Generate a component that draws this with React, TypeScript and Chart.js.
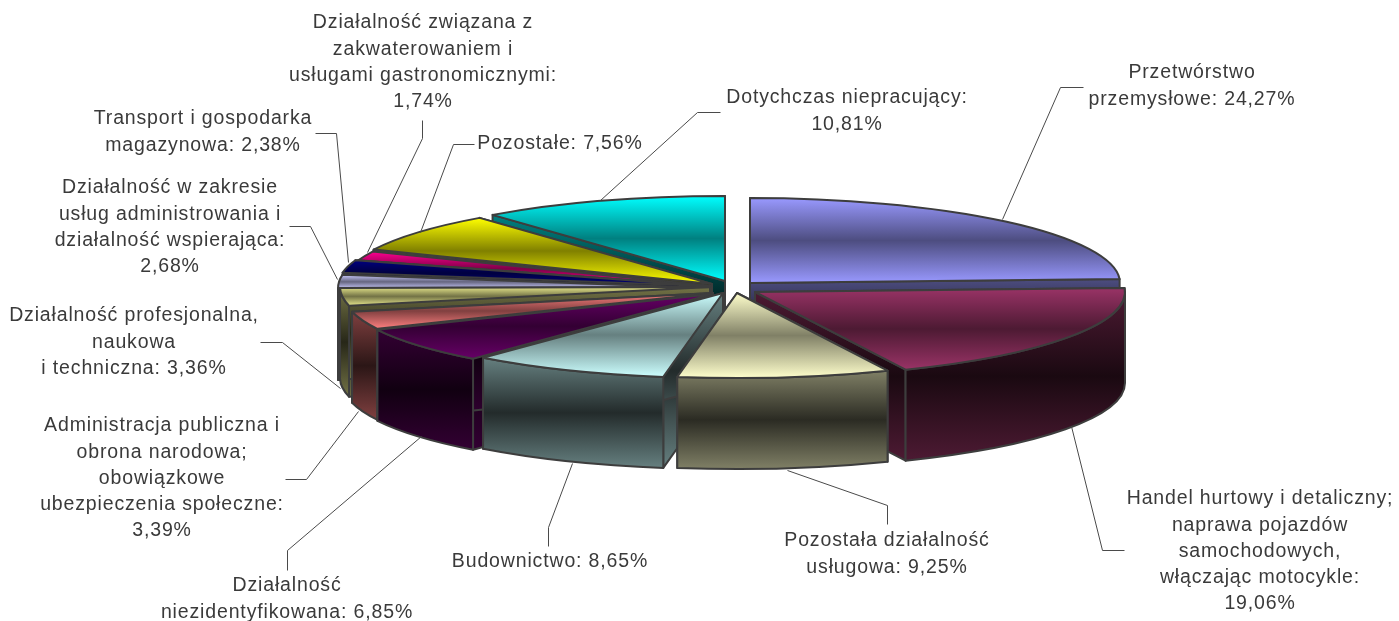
import React, { useEffect, useRef } from "react";
import { Chart, registerables } from "chart.js";

Chart.register(...registerables);

const sectorNames = [
  "Przetwórstwo przemysłowe",
  "Handel hurtowy i detaliczny; naprawa pojazdów samochodowych, włączając motocykle",
  "Pozostała działalność usługowa",
  "Budownictwo",
  "Działalność niezidentyfikowana",
  "Administracja publiczna i obrona narodowa; obowiązkowe ubezpieczenia społeczne",
  "Działalność profesjonalna, naukowa i techniczna",
  "Działalność w zakresie usług administrowania i działalność wspierająca",
  "Transport i gospodarka magazynowa",
  "Działalność związana z zakwaterowaniem i usługami gastronomicznymi",
  "Pozostałe",
  "Dotychczas niepracujący",
];
const shares = [24.27, 19.06, 9.25, 8.65, 6.85, 3.39, 3.36, 2.68, 2.38, 1.74, 7.56, 10.81];
const sliceColours = [
  "#9999FF", "#993366", "#FFFFCC", "#CCFFFF", "#660066", "#FF8080",
  "#E6E68C", "#CCCCFF", "#000080", "#FF0090", "#FFFF00", "#00FFFF",
];
const shareTexts = shares.map((v) => v.toFixed(2).replace(".", ",") + "%");

// Wrapped label text; the value is appended to the last line (or stands alone when the line is empty)
const labelLines: string[][] = [
  ["Przetwórstwo", "przemysłowe: "],
  ["Handel hurtowy i detaliczny;", "naprawa pojazdów", "samochodowych,", "włączając motocykle:", ""],
  ["Pozostała działalność", "usługowa: "],
  ["Budownictwo: "],
  ["Działalność", "niezidentyfikowana: "],
  ["Administracja publiczna i", "obrona narodowa;", "obowiązkowe", "ubezpieczenia społeczne:", ""],
  ["Działalność profesjonalna,", "naukowa", "i techniczna: "],
  ["Działalność w zakresie", "usług administrowania i", "działalność wspierająca:", ""],
  ["Transport i gospodarka", "magazynowa: "],
  ["Działalność związana z", "zakwaterowaniem i", "usługami gastronomicznymi:", ""],
  ["Pozostałe: "],
  ["Dotychczas niepracujący:", ""],
];

// Layout of the fake-3D projection
const RX = 370;
const RY = 85;
const DEPTH = 91;
const sliceOrigins = [
  [750, 283], [755, 292], [737, 293], [723, 293], [713, 294], [713, 293],
  [710, 287], [708, 288], [708, 286], [711, 286], [712, 284], [725, 281],
];
const paintOrder = [11, 10, 9, 8, 7, 6, 5, 4, 3, 0, 1, 2];
const labelAnchors = [
  [1192, 73], [1260, 499], [887, 541], [550, 562], [287, 586], [162, 426],
  [134, 316], [170, 188], [203, 119], [423, 23], [560, 144], [847, 98],
];
const LINE_H = 26.2;
const leaders = [
  [[1002, 219], [1060, 87], [1083, 87]],
  [[1071, 426], [1102, 550], [1124, 550]],
  [[787, 470], [887, 505], [887, 524]],
  [[572, 463], [548, 527], [548, 546]],
  [[421, 436], [287, 550], [287, 570]],
  [[358, 411], [306, 479], [285, 479]],
  [[340, 388], [282, 342], [260, 342]],
  [[337, 279], [310, 226], [289, 226]],
  [[348, 262], [336, 133], [315, 133]],
  [[367, 252], [422, 138], [422, 120]],
  [[420, 232], [453, 144], [474, 144]],
  [[600, 200], [697, 112], [720, 112]],
];

const EDGE = "#3d3d3d";

function shade(hex: string, f: number) {
  const n = parseInt(hex.slice(1), 16);
  const c = [(n >> 16) & 255, (n >> 8) & 255, n & 255].map((v) => Math.round(v * f));
  return `rgb(${c[0]},${c[1]},${c[2]})`;
}

function vGrad(ctx: CanvasRenderingContext2D, y0: number, y1: number, colour: string, ends: number, mid: number) {
  const g = ctx.createLinearGradient(0, y0, 0, y1);
  g.addColorStop(0, shade(colour, ends));
  g.addColorStop(0.5, shade(colour, mid));
  g.addColorStop(1, shade(colour, ends));
  return g;
}

function fillStroke(ctx: CanvasRenderingContext2D, fill: CanvasGradient) {
  ctx.fillStyle = fill;
  ctx.fill();
  ctx.strokeStyle = EDGE;
  ctx.lineWidth = 2;
  ctx.stroke();
}

const pie3d = {
  id: "pie3d",
  beforeDatasetDraw(chart: any) {
    const ctx: CanvasRenderingContext2D = chart.ctx;
    const arcs = chart.getDatasetMeta(0).data;
    ctx.save();
    ctx.lineJoin = "round";
    for (const i of paintOrder) {
      const arc = arcs[i];
      const [ox, oy] = sliceOrigins[i];
      const colour = sliceColours[i];
      const s: number = arc.startAngle;
      const e: number = arc.endAngle;
      const px = (a: number) => ox + Math.cos(a) * RX;
      const py = (a: number) => oy + Math.sin(a) * RY;

      // cut faces
      for (const a of [s, e]) {
        ctx.beginPath();
        ctx.moveTo(ox, oy);
        ctx.lineTo(px(a), py(a));
        ctx.lineTo(px(a), py(a) + DEPTH);
        ctx.lineTo(ox, oy + DEPTH);
        ctx.closePath();
        const top = Math.min(oy, py(a));
        const bottom = Math.max(oy, py(a)) + DEPTH;
        fillStroke(ctx, vGrad(ctx, top, bottom, colour, 0.5, 0.17));
      }

      // outer curved wall: only the part facing the viewer
      const a0 = Math.max(s, 0);
      const a1 = Math.min(e, Math.PI);
      if (a1 > a0) {
        let minY = Infinity;
        let maxY = -Infinity;
        for (let t = 0; t <= 24; t++) {
          const y = py(a0 + ((a1 - a0) * t) / 24);
          minY = Math.min(minY, y);
          maxY = Math.max(maxY, y);
        }
        ctx.beginPath();
        ctx.ellipse(ox, oy, RX, RY, 0, a0, a1);
        ctx.lineTo(px(a1), py(a1) + DEPTH);
        ctx.ellipse(ox, oy + DEPTH, RX, RY, 0, a1, a0, true);
        ctx.closePath();
        fillStroke(ctx, vGrad(ctx, minY, maxY + DEPTH, colour, 0.5, 0.17));
      }

      // top face: the library's own arc, squashed onto the slice's origin
      let minY = oy;
      let maxY = oy;
      for (let t = 0; t <= 32; t++) {
        const y = py(s + ((e - s) * t) / 32);
        minY = Math.min(minY, y);
        maxY = Math.max(maxY, y);
      }
      const R: number = arc.outerRadius;
      const sx = RX / R;
      const sy = RY / R;
      ctx.save();
      ctx.translate(ox, oy);
      ctx.scale(sx, sy);
      ctx.translate(-arc.x, -arc.y);
      const gy0 = arc.y + (minY - oy) / sy;
      const gy1 = arc.y + (maxY - oy) / sy;
      const shadow = Object.create(arc);
      shadow.options = { ...arc.options, backgroundColor: vGrad(ctx, gy0, gy1, colour, 1, 0.5), borderWidth: 0 };
      arc.draw.call(shadow, ctx);
      ctx.restore();

      ctx.beginPath();
      ctx.moveTo(ox, oy);
      ctx.ellipse(ox, oy, RX, RY, 0, s, e);
      ctx.closePath();
      ctx.strokeStyle = EDGE;
      ctx.lineWidth = 2;
      ctx.stroke();
    }
    ctx.restore();
    return false;
  },
  afterDraw(chart: any) {
    const ctx: CanvasRenderingContext2D = chart.ctx;
    ctx.save();
    ctx.strokeStyle = "#4a4a4a";
    ctx.lineWidth = 1;
    for (const path of leaders) {
      ctx.beginPath();
      path.forEach(([x, y], k) => (k ? ctx.lineTo(x + 0.5, y + 0.5) : ctx.moveTo(x + 0.5, y + 0.5)));
      ctx.stroke();
    }
    ctx.fillStyle = "#3a3a3a";
    ctx.font = '19.5px "Liberation Sans"';
    (ctx as any).letterSpacing = "0.85px";
    ctx.textAlign = "center";
    ctx.textBaseline = "middle";
    labelLines.forEach((lines, i) => {
      const [cx, cy] = labelAnchors[i];
      lines.forEach((line, k) => {
        const text = k === lines.length - 1 ? line + shareTexts[i] : line;
        ctx.fillText(text, cx, cy + k * LINE_H);
      });
    });
    ctx.restore();
  },
};

export default function App() {
  const ref = useRef<HTMLCanvasElement>(null);
  useEffect(() => {
    document.body.style.margin = "0";
    const chart = new Chart(ref.current!, {
      type: "pie",
      data: {
        labels: sectorNames,
        datasets: [{ data: shares, backgroundColor: sliceColours, borderWidth: 0 }],
      },
      options: {
        animation: false,
        responsive: false,
        maintainAspectRatio: false,
        plugins: { legend: { display: false }, tooltip: { enabled: false } },
      },
      plugins: [pie3d],
    } as any);
    return () => chart.destroy();
  }, []);
  return <canvas ref={ref} width={1399} height={621} style={{ display: "block" }} />;
}
